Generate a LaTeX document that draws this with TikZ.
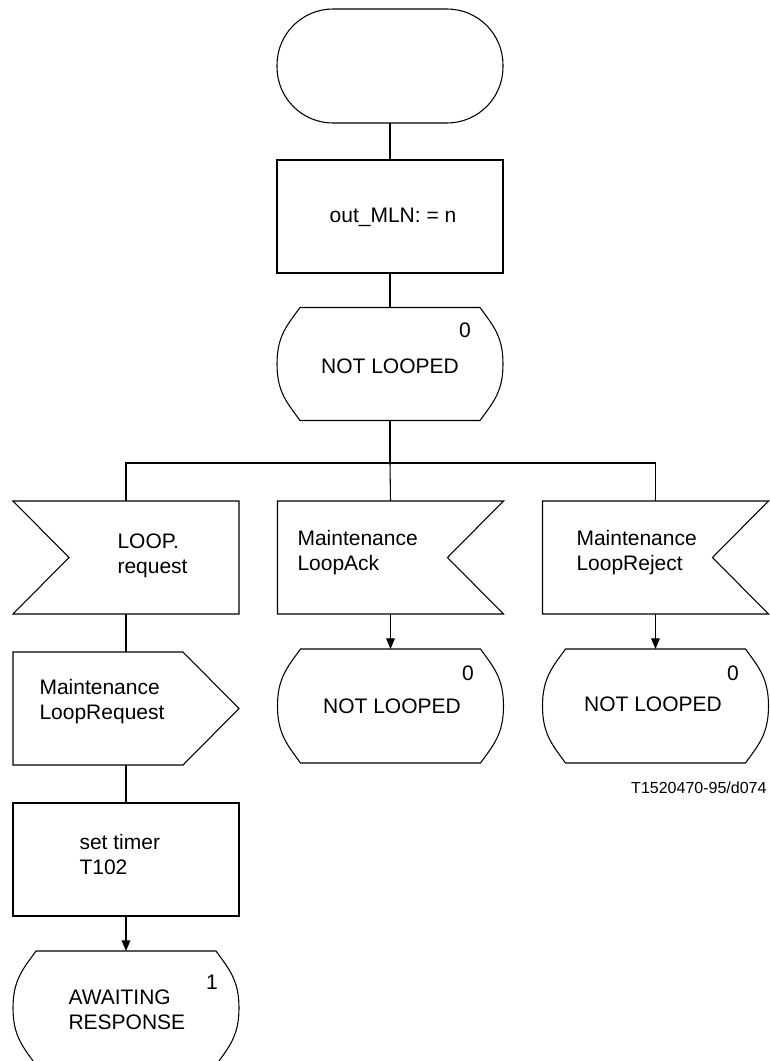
\documentclass[tikz,border=0pt]{standalone}
\usepackage{fontspec}
\setmainfont{Liberation Sans}
\usetikzlibrary{arrows.meta,calc}
\newcommand{\sdlstate}[1]{%
  \draw ($(#1.north west)+(23,0)$) -- ($(#1.north east)+(-23,0)$)
    .. controls ($(#1.north east)+(-10,18)$) and ($(#1.east)+(0,-28)$) .. (#1.east)
    .. controls ($(#1.east)+(0,28)$) and ($(#1.south east)+(-10,-18)$) .. ($(#1.south east)+(-23,0)$)
    -- ($(#1.south west)+(23,0)$)
    .. controls ($(#1.south west)+(10,-18)$) and ($(#1.west)+(0,28)$) .. (#1.west)
    .. controls ($(#1.west)+(0,-28)$) and ($(#1.north west)+(10,18)$) .. cycle;}
\begin{document}
\begin{tikzpicture}[x=0.75pt,y=-0.75pt,line width=0.8pt,
  every node/.style={font=\fontsize{15.75pt}{18.75pt}\selectfont},
  hold/.style={minimum width=169.5pt,minimum height=84.75pt,inner sep=0pt,outer sep=0pt},
  txt/.style={align=left,anchor=west,inner sep=0pt},
  num/.style={inner sep=0pt},
  arr/.style={-{Triangle[length=8pt,width=6.5pt]}}]
\useasboundingbox (0,0) rectangle (770,1061);

% shape holders
\node[hold,minimum height=85.5pt] (start) at (390,66) {};
\node[hold] (task1) at (390,216.5) {};
\node[hold] (st0) at (390,364) {};
\node[hold] (in1) at (126,557.5) {};
\node[hold] (in2) at (390.5,557.5) {};
\node[hold] (in3) at (655.5,557.5) {};
\node[hold] (out1) at (126,708.5) {};
\node[hold] (task2) at (126,859.5) {};
\node[hold,minimum height=85.5pt] (st1) at (126,1008) {};
\node[hold,minimum height=85.5pt] (stA) at (390.5,706) {};
\node[hold,minimum height=85.5pt] (stR) at (655.5,706) {};

% outlines
\draw[rounded corners=42pt] (start.north west) rectangle (start.south east);
\draw (task1.north west) rectangle (task1.south east);
\sdlstate{st0}
\draw (in1.north west) -- (in1.north east) -- (in1.south east) -- (in1.south west) -- ($(in1.west)+(56,0)$) -- cycle;
\draw (in2.north west) -- (in2.north east) -- ($(in2.east)+(-56,0)$) -- (in2.south east) -- (in2.south west) -- cycle;
\draw (in3.north west) -- (in3.north east) -- ($(in3.east)+(-56,0)$) -- (in3.south east) -- (in3.south west) -- cycle;
\draw (out1.north west) -- ($(out1.north east)+(-56,0)$) -- (out1.east) -- ($(out1.south east)+(-56,0)$) -- (out1.south west) -- cycle;
\draw (task2.north west) rectangle (task2.south east);
\sdlstate{st1}
\sdlstate{stA}
\sdlstate{stR}

% texts
\node[num] (t1) at (393,217) {out\_MLN: = n};
\node[num] (z0) at (465,330) {0};
\node[num] (n0) at (390,366) {NOT LOOPED};
\node[txt] (ti1) at (117,556) {LOOP.\\request};
\node[txt] (ti2) at (297,553) {Maintenance\\LoopAck};
\node[txt] (ti3) at (576,553) {Maintenance\\LoopReject};
\node[txt] (to1) at (39,702) {Maintenance\\LoopRequest};
\node[txt] (tt2) at (79,854) {set timer\\T102};
\node[num] (zA) at (468,673) {0};
\node[num] (nA) at (392,706) {NOT LOOPED};
\node[num] (zR) at (733,673) {0};
\node[num] (nR) at (653,704) {NOT LOOPED};
\node[num] (z1) at (212,982) {1};
\node[txt] (n1) at (68,1010) {AWAITING\\RESPONSE};
\node[num,anchor=east,font=\fontsize{12pt}{14pt}\selectfont] (ref) at (767,788) {T1520470-95/d074};

% connectors
\coordinate (bus) at (390,463);
\draw (start.south) -- (task1.north);
\draw (task1.south) -- (st0.north);
\draw (st0.south) -- (bus);
\draw (in1.north) |- (bus) -| (in3.north);
\draw (bus) -- (in2.north);
\draw[arr] (in2.south) -- (stA.north);
\draw[arr] (in3.south) -- (stR.north);
\draw (in1.south) -- (out1.north);
\draw (out1.south) -- (task2.north);
\draw[arr] (task2.south) -- (st1.north);
\end{tikzpicture}
\end{document}
